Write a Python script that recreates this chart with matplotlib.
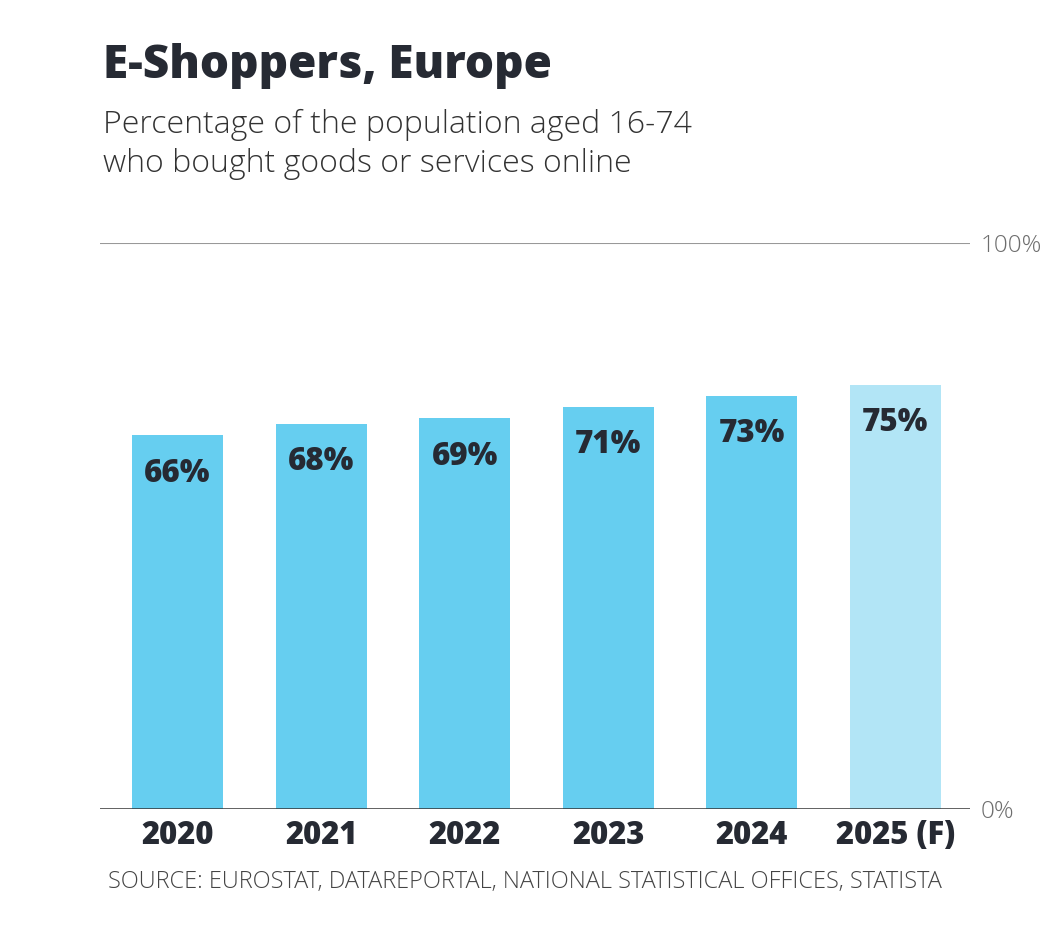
import numpy as np
import matplotlib.pyplot as plt

years = ['2020', '2021', '2022', '2023', '2024', '2025 (F)']
shares = [66, 68, 69, 71, 73, 75]
forecast = [False, False, False, False, False, True]

BAR = '#66CEF0'
BAR_F = '#B2E5F6'
DARK = '#262A33'

plt.rcParams['font.family'] = ['Open Sans', 'DejaVu Sans']

fig = plt.figure(figsize=(10.5, 9.4), dpi=100)
ax = fig.add_axes([100 / 1050, 1 - 809 / 940, 870 / 1050, 566 / 940])

x = np.arange(len(years))
colors = [BAR_F if f else BAR for f in forecast]
bars = ax.bar(x, shares, width=0.635, color=colors, zorder=2)

for xi, v in zip(x, shares):
    ax.annotate(f'{v}%', (xi, v), xytext=(0, -16), textcoords='offset points',
                ha='center', va='top', fontsize=22.5, fontweight='heavy', color=DARK)

ax.set_xlim(-0.54, 5.52)
ax.set_ylim(0, 100)
ax.axhline(100, color='#999999', lw=1.5, zorder=1)
ax.axhline(0, color='#333333', lw=1.8, zorder=3)

for s in ax.spines.values():
    s.set_visible(False)
ax.set_xticks(x)
ax.set_xticklabels(years, fontsize=22.3, fontweight='heavy', color=DARK)
ax.tick_params(axis='x', length=0, pad=8)
ax.set_yticks([])
for yv in [0, 100]:
    ax.text(1.012, yv - 0.5, f'{yv}%', transform=ax.get_yaxis_transform(),
            ha='left', va='center', fontsize=17.5, color='#6e6e6e', fontweight='light')

fig.text(103 / 1050, 1 - 78 / 940, 'E-Shoppers, Europe', fontsize=33,
         fontweight='heavy', color=DARK, va='baseline')
fig.text(103 / 1050, 1 - 133 / 940, 'Percentage of the population aged 16-74',
         fontsize=23, fontweight='light', color='#333333', va='baseline')
fig.text(103 / 1050, 1 - 172 / 940, 'who bought goods or services online',
         fontsize=23, fontweight='light', color='#333333', va='baseline')
fig.text(108 / 1050, 1 - 888 / 940,
         'SOURCE: EUROSTAT, DATAREPORTAL, NATIONAL STATISTICAL OFFICES, STATISTA',
         fontsize=16.9, fontweight='light', color='#444444', va='baseline')

fig.savefig('out.png', dpi=100, facecolor='white')
